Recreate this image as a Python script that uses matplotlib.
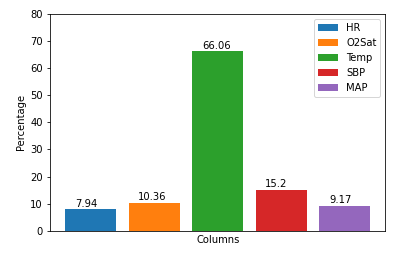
import matplotlib
matplotlib.use("Agg")
import matplotlib.pyplot as plt

# percentage per column
columns = ["HR", "O2Sat", "Temp", "SBP", "MAP"]
values = [7.94, 10.36, 66.06, 15.2, 9.17]
colors = ["#1f77b4", "#ff7f0e", "#2ca02c", "#d62728", "#9467bd"]

fig = plt.figure(figsize=(399 / 72, 255 / 72), dpi=72)
ax = fig.add_subplot(111)
fig.subplots_adjust(left=0.1253, right=0.966, top=0.947, bottom=0.094)

for i, (name, v) in enumerate(zip(columns, values)):
    ax.bar(i, v, color=colors[i], label=name)
    ax.text(i - 0.25, v + 1, str(v))

ax.set_ylim(0, 80)
ax.set_xticks([])
ax.set_xlabel("Columns")
ax.set_ylabel("Percentage")
ax.legend(loc="upper right")

fig.savefig("out.png", dpi=72)
